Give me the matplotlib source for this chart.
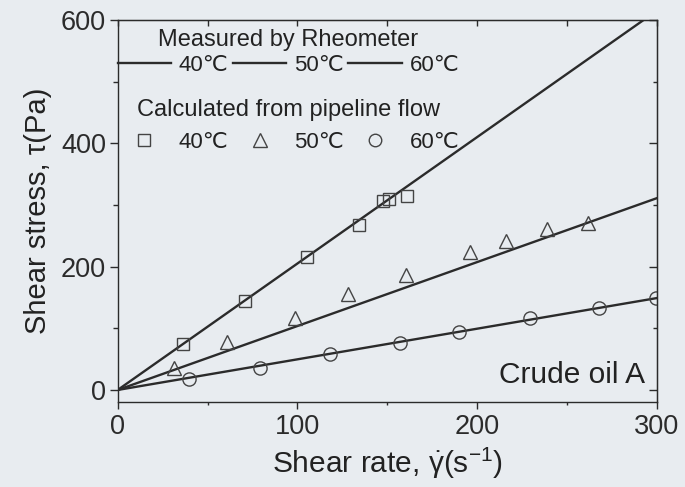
import matplotlib
matplotlib.use('Agg')
import matplotlib.pyplot as plt
from matplotlib.lines import Line2D
from matplotlib.ticker import MultipleLocator

plt.rcParams['font.family'] = ['Liberation Sans', 'DejaVu Sans']
plt.rcParams['mathtext.fontset'] = 'custom'
plt.rcParams['mathtext.rm'] = 'Liberation Sans'
plt.rcParams['mathtext.it'] = 'Liberation Sans'
plt.rcParams['mathtext.default'] = 'regular'

# rheometer fits (straight lines through the origin)
fit_rate = [0, 300]
fit_40 = [0, 615]
fit_50 = [0, 311]
fit_60 = [0, 149]

# pipeline flow points
rate_40 = [36.2, 70.9, 105.2, 134.5, 147.8, 151.2, 161.3]
stress_40 = [74, 144, 215, 267, 307, 310, 315]
rate_50 = [31.5, 60.7, 98.7, 128.0, 160.2, 196.1, 216.1, 239.1, 261.9]
stress_50 = [35, 77, 116, 155, 186, 223, 242, 261, 271]
rate_60 = [39.7, 79.2, 118.2, 157.4, 190.0, 229.5, 268.0, 299.6]
stress_60 = [18, 36, 58, 76, 94.5, 116, 133.5, 149]

temps = ['40\u2103', '50\u2103', '60\u2103']

bg = '#e8ecf0'
ink = '#2b2b2b'
mk = dict(mfc='none', mec='#444444', mew=1.0, ls='none')

fig = plt.figure(figsize=(6.85, 4.87), dpi=100, facecolor=bg)
ax = fig.add_axes([0.1718, 0.1752, 0.7869, 0.7837])
ax.set_facecolor(bg)

ax.plot(fit_rate, fit_40, color=ink, lw=1.7)
ax.plot(fit_rate, fit_50, color=ink, lw=1.7)
ax.plot(fit_rate, fit_60, color=ink, lw=1.7)
ax.plot(rate_40, stress_40, marker='s', ms=9, **mk)
ax.plot(rate_50, stress_50, marker='^', ms=10.5, **mk)
ax.plot(rate_60, stress_60, marker='o', ms=9.5, **mk)

ax.set_xlim(0, 300)
ax.set_ylim(-19, 600)
ax.xaxis.set_major_locator(MultipleLocator(100))
ax.xaxis.set_minor_locator(MultipleLocator(50))
ax.yaxis.set_major_locator(MultipleLocator(200))
ax.yaxis.set_minor_locator(MultipleLocator(100))

for s in ax.spines.values():
    s.set_linewidth(1.0)
    s.set_color(ink)

ax.tick_params(axis='both', which='both', colors=ink, width=1.0, labelsize=19.5)
ax.tick_params(axis='x', which='major', direction='out', length=5, pad=4)
ax.tick_params(axis='x', which='minor', direction='out', length=2.5)
ax.tick_params(axis='y', which='major', direction='out', length=5.5, pad=3)
ax.tick_params(axis='y', which='minor', direction='out', length=3.5)

# inward ticks on the top and right
top = ax.secondary_xaxis('top')
top.xaxis.set_major_locator(MultipleLocator(100))
top.xaxis.set_minor_locator(MultipleLocator(50))
top.tick_params(which='both', direction='in', length=4, width=1.0, colors=ink, labeltop=False)
right = ax.secondary_yaxis('right')
right.yaxis.set_major_locator(MultipleLocator(200))
right.yaxis.set_minor_locator(MultipleLocator(100))
right.tick_params(which='major', direction='in', length=5.5, width=1.0, colors=ink, labelright=False)
right.tick_params(which='minor', direction='in', length=3, width=1.0, colors=ink)

ax.set_xlabel(r'Shear rate, $\dot{\gamma}$(s$^{-1}$)', fontsize=21.5, color='#222222', labelpad=4)
ax.set_ylabel('Shear stress, \u03c4(Pa)', fontsize=21, color='#222222', labelpad=6)

ax.text(0.978, 0.049, 'Crude oil A', transform=ax.transAxes, ha='right', va='baseline',
        fontsize=21.5, color='#222222')

line_handles = [Line2D([], [], color=ink, lw=1.7) for _ in temps]
leg1 = ax.legend(line_handles, temps, title='Measured by Rheometer', ncol=3,
                 loc='upper left', bbox_to_anchor=(0, 0.977), borderaxespad=0, borderpad=0,
                 frameon=False, fontsize=16, title_fontsize=17, handlelength=2.4,
                 handletextpad=0.35, columnspacing=0.2, labelspacing=0.2)
ax.add_artist(leg1)

mark_handles = [Line2D([], [], marker='s', ms=8.5, **mk),
                Line2D([], [], marker='^', ms=9.5, **mk),
                Line2D([], [], marker='o', ms=9, **mk)]
leg2 = ax.legend(mark_handles, temps, title='Calculated from pipeline flow', ncol=3,
                 loc='upper left', bbox_to_anchor=(0, 0.794), borderaxespad=0, borderpad=0,
                 frameon=False, fontsize=16, title_fontsize=17, handlelength=2.4,
                 handletextpad=0.35, columnspacing=0.2, labelspacing=0.5)
for lg in (leg1, leg2):
    lg.get_title().set_color('#222222')
    for t in lg.get_texts():
        t.set_color('#222222')

fig.savefig('out.png', dpi=100, facecolor=bg)
